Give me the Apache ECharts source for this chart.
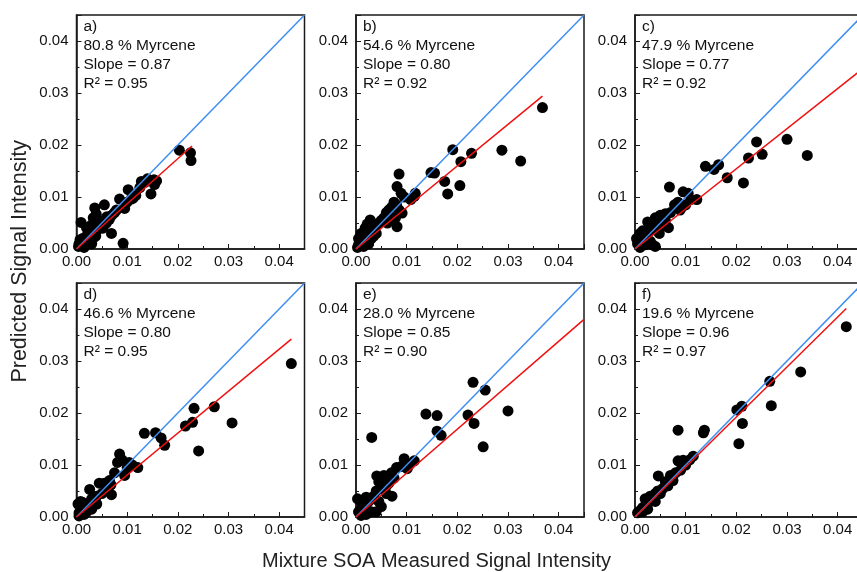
<!DOCTYPE html>
<html>
<head>
<meta charset="utf-8">
<script src="https://cdn.jsdelivr.net/npm/echarts@6/dist/echarts.min.js"></script>
<style>
  html, body { margin: 0; padding: 0; background: #fff; }
  #chart { width: 857px; height: 572px; }
</style>
</head>
<body>
<div id="chart"></div>
<script>
// panel labels
const panelTags = ['a)', 'b)', 'c)', 'd)', 'e)', 'f)']
const myrcene = ['80.8', '54.6', '47.9', '46.6', '28.0', '19.6']
const slopes = ['0.87', '0.80', '0.77', '0.80', '0.85', '0.96']
const r2 = ['0.95', '0.92', '0.92', '0.95', '0.90', '0.97']

// 1:1 line and linear fit lines (start, end)
const oneToOne = [[0, 0], [0.045, 0.045]]
const fitA = [[0, 0], [0.0228, 0.0198]]
const fitB = [[0, 0], [0.0368, 0.0294]]
const fitC = [[0, 0], [0.045, 0.0347]]
const fitD = [[0, 0], [0.0424, 0.0342]]
const fitE = [[0, 0], [0.045, 0.0380]]
const fitF = [[0, 0], [0.0417, 0.0401]]

// measured (x) vs predicted (y)
const pointsA = [
  [0.0203,0.0190],[0.0225,0.0185],[0.0226,0.0170],[0.0153,0.0133],[0.0147,0.0106],[0.0154,0.0124],
  [0.0140,0.0135],[0.0128,0.0130],[0.0102,0.0114],[0.0117,0.0103],[0.0108,0.0096],[0.0085,0.0096],
  [0.0095,0.0078],[0.0079,0.0075],[0.0069,0.0030],[0.0092,0.0011],[0.0055,0.0085],[0.0036,0.0079],
  [0.0009,0.0051],[0.0033,0.0060],[0.0039,0.0067],[0.0045,0.0045],[0.0033,0.0021],[0.0065,0.0057],
  [0.0059,0.0050],[0.0007,0.0018],[0.0004,0.0005],[0.0010,0.0008],[0.0015,0.0012],[0.0020,0.0025],
  [0.0025,0.0030],[0.0030,0.0035],[0.0035,0.0040],[0.0040,0.0035],[0.0050,0.0048],[0.0060,0.0062],
  [0.0070,0.0065],[0.0075,0.0070],[0.0020,0.0040],[0.0025,0.0015],[0.0030,0.0010],[0.0015,0.0003],
  [0.0005,0.0010],[0.0028,0.0045],[0.0045,0.0055],[0.0052,0.0040],[0.0038,0.0025],[0.0012,0.0020],
  [0.0100,0.0090],[0.0112,0.0098],[0.0125,0.0118],[0.0135,0.0128],[0.0158,0.0131]
]
const pointsB = [
  [0.0368,0.0272],[0.0288,0.0190],[0.0325,0.0169],[0.0228,0.0184],[0.0207,0.0168],[0.0191,0.0191],
  [0.0205,0.0122],[0.0181,0.0106],[0.0175,0.0130],[0.0148,0.0147],[0.0155,0.0146],[0.0115,0.0101],
  [0.0108,0.0095],[0.0117,0.0107],[0.0085,0.0144],[0.0081,0.0120],[0.0089,0.0107],[0.0095,0.0100],
  [0.0091,0.0069],[0.0081,0.0043],[0.0028,0.0056],[0.0075,0.0090],[0.0070,0.0080],[0.0065,0.0075],
  [0.0060,0.0070],[0.0080,0.0085],[0.0085,0.0075],[0.0078,0.0060],[0.0072,0.0055],[0.0055,0.0060],
  [0.0050,0.0055],[0.0045,0.0050],[0.0040,0.0045],[0.0035,0.0040],[0.0030,0.0035],[0.0025,0.0030],
  [0.0020,0.0025],[0.0015,0.0018],[0.0010,0.0012],[0.0005,0.0008],[0.0010,0.0030],[0.0018,0.0040],
  [0.0022,0.0048],[0.0030,0.0020],[0.0035,0.0025],[0.0025,0.0010],[0.0015,0.0005],[0.0040,0.0030],
  [0.0005,0.0020],[0.0003,0.0003],[0.0062,0.0050]
]
const pointsC = [
  [0.0340,0.0180],[0.0300,0.0211],[0.0251,0.0182],[0.0240,0.0206],[0.0224,0.0175],[0.0214,0.0127],
  [0.0182,0.0137],[0.0165,0.0162],[0.0156,0.0153],[0.0139,0.0159],[0.0122,0.0095],[0.0105,0.0107],
  [0.0095,0.0110],[0.0068,0.0119],[0.0089,0.0075],[0.0085,0.0090],[0.0078,0.0085],[0.0070,0.0070],
  [0.0060,0.0068],[0.0050,0.0065],[0.0040,0.0060],[0.0025,0.0052],[0.0066,0.0041],[0.0060,0.0055],
  [0.0055,0.0045],[0.0045,0.0050],[0.0035,0.0040],[0.0030,0.0035],[0.0025,0.0030],[0.0020,0.0025],
  [0.0015,0.0020],[0.0010,0.0015],[0.0005,0.0010],[0.0010,0.0030],[0.0015,0.0035],[0.0030,0.0015],
  [0.0035,0.0008],[0.0040,0.0005],[0.0020,0.0008],[0.0010,0.0003],[0.0003,0.0020],[0.0110,0.0095],
  [0.0100,0.0085],[0.0092,0.0080],[0.0048,0.0030]
]
const pointsD = [
  [0.0424,0.0295],[0.0307,0.0181],[0.0272,0.0212],[0.0232,0.0209],[0.0229,0.0182],[0.0215,0.0175],
  [0.0241,0.0127],[0.0134,0.0161],[0.0156,0.0162],[0.0167,0.0152],[0.0174,0.0138],[0.0121,0.0095],
  [0.0085,0.0121],[0.0104,0.0105],[0.0095,0.0080],[0.0081,0.0105],[0.0069,0.0043],[0.0026,0.0053],
  [0.0090,0.0110],[0.0100,0.0095],[0.0110,0.0100],[0.0075,0.0085],[0.0065,0.0070],[0.0055,0.0065],
  [0.0045,0.0065],[0.0060,0.0055],[0.0050,0.0045],[0.0040,0.0040],[0.0035,0.0030],[0.0030,0.0035],
  [0.0025,0.0028],[0.0020,0.0022],[0.0015,0.0018],[0.0010,0.0012],[0.0005,0.0008],[0.0003,0.0025],
  [0.0008,0.0030],[0.0012,0.0028],[0.0020,0.0010],[0.0030,0.0015],[0.0015,0.0005],[0.0005,0.0002],
  [0.0040,0.0025],[0.0068,0.0062]
]
const pointsE = [
  [0.0031,0.0153],[0.0231,0.0259],[0.0255,0.0244],[0.0300,0.0204],[0.0221,0.0196],[0.0233,0.0180],
  [0.0251,0.0135],[0.0138,0.0198],[0.0160,0.0195],[0.0160,0.0165],[0.0168,0.0157],[0.0115,0.0108],
  [0.0095,0.0112],[0.0089,0.0097],[0.0101,0.0093],[0.0071,0.0040],[0.0041,0.0079],[0.0045,0.0068],
  [0.0055,0.0080],[0.0070,0.0085],[0.0080,0.0095],[0.0075,0.0075],[0.0065,0.0065],[0.0060,0.0060],
  [0.0050,0.0055],[0.0040,0.0050],[0.0035,0.0040],[0.0030,0.0035],[0.0025,0.0030],[0.0020,0.0025],
  [0.0015,0.0020],[0.0010,0.0015],[0.0005,0.0010],[0.0003,0.0035],[0.0010,0.0030],[0.0020,0.0038],
  [0.0030,0.0010],[0.0040,0.0010],[0.0050,0.0020],[0.0045,0.0030],[0.0020,0.0005],[0.0010,0.0003],
  [0.0060,0.0045],[0.0105,0.0100]
]
const pointsF = [
  [0.0417,0.0366],[0.0327,0.0279],[0.0266,0.0261],[0.0269,0.0214],[0.0201,0.0206],[0.0211,0.0213],
  [0.0212,0.0180],[0.0205,0.0141],[0.0085,0.0167],[0.0137,0.0167],[0.0135,0.0162],[0.0115,0.0117],
  [0.0108,0.0110],[0.0095,0.0109],[0.0085,0.0108],[0.0046,0.0079],[0.0100,0.0100],[0.0090,0.0090],
  [0.0080,0.0085],[0.0070,0.0080],[0.0065,0.0060],[0.0075,0.0070],[0.0060,0.0068],[0.0055,0.0055],
  [0.0050,0.0045],[0.0045,0.0050],[0.0040,0.0045],[0.0035,0.0035],[0.0030,0.0030],[0.0025,0.0028],
  [0.0020,0.0022],[0.0015,0.0018],[0.0010,0.0012],[0.0005,0.0008],[0.0030,0.0040],[0.0020,0.0035],
  [0.0025,0.0015],[0.0015,0.0010],[0.0040,0.0030]
]

const allPoints = [pointsA, pointsB, pointsC, pointsD, pointsE, pointsF]
const allFits = [fitA, fitB, fitC, fitD, fitE, fitF]

// panel placement in pixels (third column runs past the right edge, as in the figure)
const colLeft = [76.5, 356, 635]
const rowTop = [15, 283]
const panelW = 228
const panelH = 234

const FONT = '"Liberation Sans", Arial, sans-serif'

const chart = echarts.init(document.getElementById('chart'))

const grids = []
const xAxes = []
const yAxes = []
const series = []
const graphics = []

const tickLabel = v => (v > 0.0401 ? '' : v.toFixed(2))

for (let i = 0; i < 6; i++) {
  const left = colLeft[i % 3]
  const top = rowTop[Math.floor(i / 3)]
  grids.push({
    left: left, top: top, width: panelW, height: panelH,
    outerBoundsMode: 'none',
    containLabel: false,
    show: true, borderColor: '#1a1a1a', borderWidth: 1.5, backgroundColor: '#fff'
  })

  const axisCommon = {
    gridIndex: i,
    type: 'value',
    min: 0,
    max: 0.045,
    interval: 0.01,
    axisLine: { show: true, onZero: false, lineStyle: { color: '#1a1a1a', width: 1.5 } },
    axisTick: { show: true, inside: true, length: 5, lineStyle: { color: '#1a1a1a', width: 1 } },
    minorTick: { show: true, splitNumber: 2, length: 3, lineStyle: { color: '#1a1a1a', width: 1 } },
    splitLine: { show: false },
    axisLabel: { color: '#111', fontSize: 15, fontFamily: FONT, formatter: tickLabel, margin: 5 }
  }
  xAxes.push(Object.assign({}, axisCommon))
  yAxes.push(Object.assign({}, axisCommon, { axisLabel: Object.assign({}, axisCommon.axisLabel, { margin: 8 }) }))

  series.push({
    type: 'scatter',
    xAxisIndex: i, yAxisIndex: i,
    data: allPoints[i],
    symbolSize: 11,
    itemStyle: { color: '#000', opacity: 1 },
    z: 2,
    silent: true
  })
  series.push({
    type: 'line',
    xAxisIndex: i, yAxisIndex: i,
    data: oneToOne,
    symbol: 'none',
    lineStyle: { color: '#3f8ef2', width: 1.5 },
    z: 3,
    silent: true
  })
  series.push({
    type: 'line',
    xAxisIndex: i, yAxisIndex: i,
    data: allFits[i],
    symbol: 'none',
    lineStyle: { color: '#f01010', width: 1.5 },
    z: 4,
    silent: true
  })

  graphics.push({
    type: 'text',
    left: left + 7,
    top: top + 2,
    z: 10,
    style: {
      text: panelTags[i] + '\n' + myrcene[i] + ' % Myrcene\nSlope = ' + slopes[i] + '\nR² = ' + r2[i],
      font: '15.5px ' + FONT,
      fill: '#111',
      lineHeight: 19
    }
  })
}

// axis titles
graphics.push({
  type: 'text',
  left: 9,
  top: 140,
  rotation: Math.PI / 2,
  style: {
    text: 'Predicted Signal Intensity',
    font: '21.5px ' + FONT,
    fill: '#222'
  }
})
graphics.push({
  type: 'text',
  left: 262,
  top: 551,
  style: {
    text: 'Mixture SOA Measured Signal Intensity',
    font: '20px ' + FONT,
    fill: '#222'
  }
})

chart.setOption({
  backgroundColor: '#fff',
  animation: false,
  grid: grids,
  xAxis: xAxes,
  yAxis: yAxes,
  series: series,
  graphic: graphics
})
</script>
</body>
</html>
